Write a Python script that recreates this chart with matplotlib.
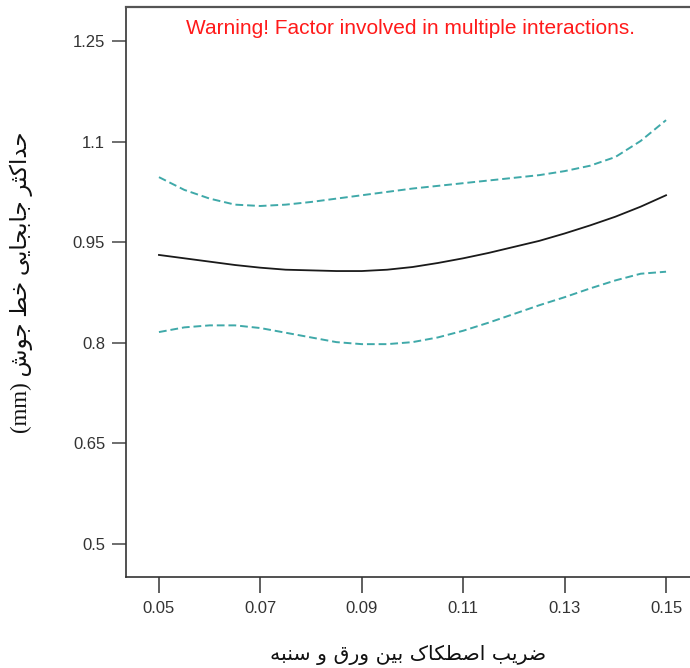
import matplotlib
matplotlib.use('Agg')
import matplotlib.pyplot as plt

# friction coefficient (x) and weld-line displacement (mm)
friction = [0.050, 0.055, 0.060, 0.065, 0.070, 0.075, 0.080, 0.085, 0.090, 0.095, 0.100,
            0.105, 0.110, 0.115, 0.120, 0.125, 0.130, 0.135, 0.140, 0.145, 0.150]
predicted = [0.931, 0.926, 0.921, 0.916, 0.912, 0.909, 0.908, 0.907, 0.907, 0.909, 0.913,
             0.919, 0.926, 0.934, 0.943, 0.952, 0.963, 0.975, 0.988, 1.003, 1.020]
upper_ci = [1.047, 1.028, 1.015, 1.006, 1.004, 1.006, 1.010, 1.015, 1.020, 1.025, 1.030,
            1.034, 1.038, 1.042, 1.046, 1.050, 1.056, 1.064, 1.077, 1.101, 1.132]
lower_ci = [0.816, 0.823, 0.826, 0.826, 0.822, 0.815, 0.808, 0.801, 0.798, 0.798, 0.801,
            0.808, 0.818, 0.830, 0.843, 0.856, 0.868, 0.881, 0.893, 0.903, 0.906]

x_ticks = [0.05, 0.07, 0.09, 0.11, 0.13, 0.15]
x_tick_labels = ['0.05', '0.07', '0.09', '0.11', '0.13', '0.15']
y_ticks = [0.5, 0.65, 0.8, 0.95, 1.1, 1.25]
y_tick_labels = ['0.5', '0.65', '0.8', '0.95', '1.1', '1.25']

x_title = 'ضریب اصطکاک بین ورق و سنبه'
y_title = 'حداکثر جابجایی خط جوش'
warning = 'Warning! Factor involved in multiple interactions.'

# matplotlib has no arabic shaping, so pick presentation forms by hand
FORMS = {
    'ا': ('\uFE8D', '\uFE8E'),
    'د': ('\uFEA9', '\uFEAA'),
    'ر': ('\uFEAD', '\uFEAE'),
    'و': ('\uFEED', '\uFEEE'),
    'ب': ('\uFE8F', '\uFE90', '\uFE91', '\uFE92'),
    'ث': ('\uFE99', '\uFE9A', '\uFE9B', '\uFE9C'),
    'ج': ('\uFE9D', '\uFE9E', '\uFE9F', '\uFEA0'),
    'ح': ('\uFEA1', '\uFEA2', '\uFEA3', '\uFEA4'),
    'خ': ('\uFEA5', '\uFEA6', '\uFEA7', '\uFEA8'),
    'س': ('\uFEB1', '\uFEB2', '\uFEB3', '\uFEB4'),
    'ش': ('\uFEB5', '\uFEB6', '\uFEB7', '\uFEB8'),
    'ص': ('\uFEB9', '\uFEBA', '\uFEBB', '\uFEBC'),
    'ض': ('\uFEBD', '\uFEBE', '\uFEBF', '\uFEC0'),
    'ط': ('\uFEC1', '\uFEC2', '\uFEC3', '\uFEC4'),
    'ق': ('\uFED5', '\uFED6', '\uFED7', '\uFED8'),
    'ن': ('\uFEE5', '\uFEE6', '\uFEE7', '\uFEE8'),
    'ه': ('\uFEE9', '\uFEEA', '\uFEEB', '\uFEEC'),
    'ک': ('\uFB8E', '\uFB8F', '\uFB90', '\uFB91'),
    'ی': ('\uFBFC', '\uFBFD', '\uFBFE', '\uFBFF'),
}


def to_visual(text):
    out = []
    for i, ch in enumerate(text):
        f = FORMS.get(ch)
        if f is None:
            out.append(ch)
            continue
        prev = text[i - 1] if i > 0 else ''
        nxt = text[i + 1] if i < len(text) - 1 else ''
        join_prev = prev in FORMS and len(FORMS[prev]) == 4
        join_next = len(f) == 4 and nxt in FORMS
        if join_prev and join_next:
            out.append(f[3])
        elif join_prev:
            out.append(f[1])
        elif join_next:
            out.append(f[2])
        else:
            out.append(f[0])
    return ''.join(reversed(out))


fig = plt.figure(figsize=(6.9, 6.68), dpi=100)
ax = fig.add_axes([126 / 690, 91 / 668, 573 / 690, 570 / 668])

teal = '#3fa9a9'
ax.plot(friction, predicted, color='#1a1a1a', lw=1.3)
ax.plot(friction, upper_ci, color=teal, lw=1.4, linestyle=(0, (4, 2)))
ax.plot(friction, lower_ci, color=teal, lw=1.4, linestyle=(0, (4, 2)))

ax.set_xlim(0.0435, 0.1565)
ax.set_ylim(0.4508, 1.3007)
ax.set_xticks(x_ticks)
ax.set_xticklabels(x_tick_labels)
ax.set_yticks(y_ticks)
ax.set_yticklabels(y_tick_labels)

for lab in ax.get_xticklabels() + ax.get_yticklabels():
    lab.set_family('Liberation Sans')
    lab.set_fontsize(12)
    lab.set_color('#333333')
ax.tick_params(axis='x', length=11.5, width=1.2, color='#444444', pad=6)
ax.tick_params(axis='y', length=10, width=1.2, color='#555555', pad=5)

for side in ['left', 'bottom', 'top', 'right']:
    ax.spines[side].set_linewidth(1.2)
    ax.spines[side].set_color('#333333')
ax.spines['top'].set_color('#555555')
ax.spines['top'].set_linewidth(1.6)

fig.text(410 / 690, 1 - 28 / 668, warning, color='#ff1a1a', fontsize=15,
         family='Liberation Sans', ha='center', va='center')
fig.text(408 / 690, 1 - 655 / 668, to_visual(x_title), fontsize=14.7,
         family='DejaVu Sans', ha='center', va='center', color='#111111')
fig.text(21 / 690, 1 - 282 / 668, '(mm) ' + to_visual(y_title), fontsize=16.5,
         family=['Liberation Serif', 'DejaVu Sans'], rotation=90,
         ha='center', va='center', color='#111111')

fig.savefig('out.png', dpi=100)
